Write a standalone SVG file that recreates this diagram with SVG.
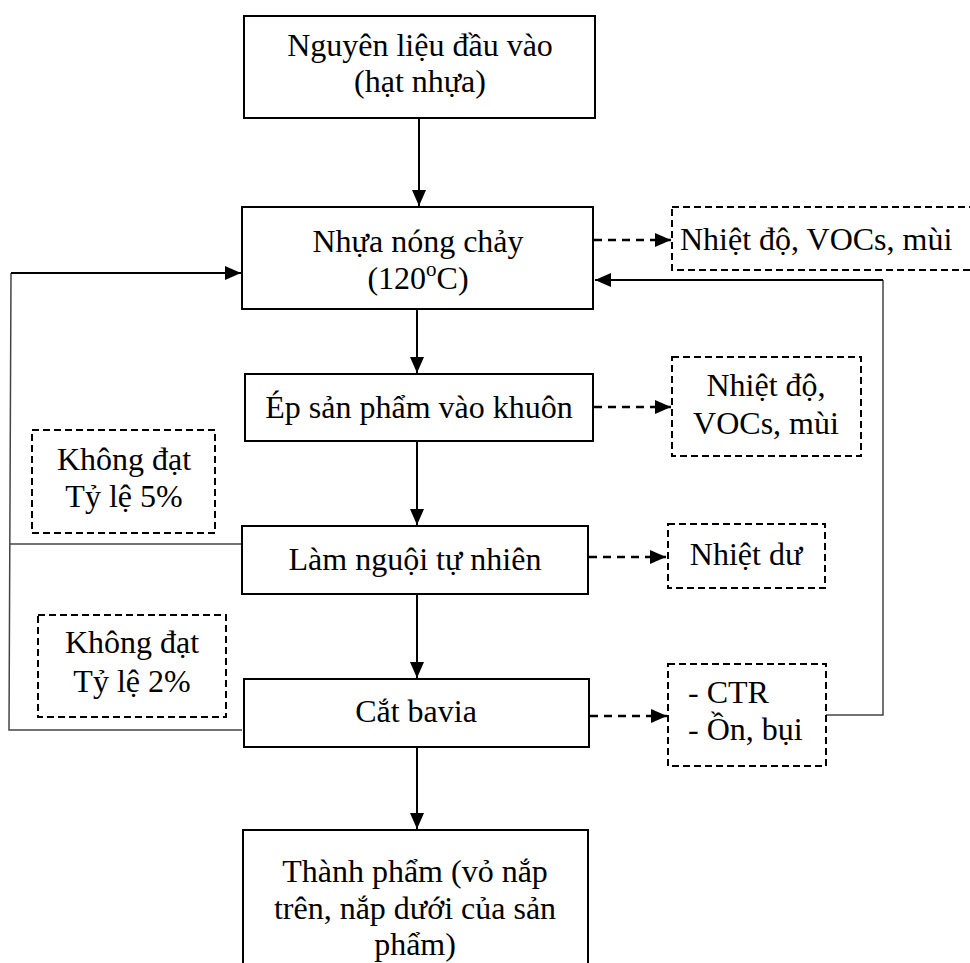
<svg xmlns="http://www.w3.org/2000/svg" width="970" height="963" viewBox="0 0 970 963">
<style>
text{font-family:"Liberation Serif","Times New Roman",serif;font-size:32px;fill:#000;text-anchor:middle}
.box{fill:#fff;stroke:#000;stroke-width:2}
.dbox{fill:#fff;stroke:#000;stroke-width:2;stroke-dasharray:7 4}
.arr{fill:none;stroke:#000;stroke-width:2;marker-end:url(#ah)}
.darr{fill:none;stroke:#000;stroke-width:2.5;stroke-dasharray:8 6;marker-end:url(#ah)}
.thin{fill:none;stroke:#444;stroke-width:1.5}
.l{text-anchor:start}
</style>
<defs>
<marker id="ah" markerUnits="userSpaceOnUse" markerWidth="17" markerHeight="14" refX="16" refY="7" orient="auto">
<path d="M0,0 L16,7 L0,14 z" fill="#000"/>
</marker>
</defs>
<rect width="970" height="963" fill="#fff"/>
<g id="connectors">
<line class="arr" x1="419" y1="118" x2="419" y2="206"/>
<line class="arr" x1="417" y1="309" x2="417" y2="373"/>
<line class="arr" x1="417" y1="441" x2="417" y2="525"/>
<line class="arr" x1="417" y1="594" x2="417" y2="678"/>
<line class="arr" x1="417" y1="747" x2="417" y2="829"/>
<line class="darr" x1="594" y1="240" x2="671" y2="240"/>
<line class="darr" x1="594" y1="407" x2="671" y2="407"/>
<line class="darr" x1="589" y1="557" x2="666" y2="557"/>
<line class="darr" x1="590" y1="716" x2="667" y2="716"/>
<polyline class="thin" points="826,715 883,715 883,280"/>
<line class="arr" x1="883" y1="280" x2="595" y2="280"/>
<polyline class="thin" points="242,730 9,730 11,273"/>
<line class="thin" x1="10" y1="544" x2="242" y2="544"/>
<line class="arr" x1="11" y1="273" x2="241" y2="273"/>
</g>
<g id="n1">
<rect class="box" x="244" y="16" width="351" height="102"/>
<text x="420" y="56">Nguyên liệu đầu vào</text>
<text x="420" y="92">(hạt nhựa)</text>
</g>
<g id="n2">
<rect class="box" x="242" y="207" width="351" height="102"/>
<text x="418" y="252">Nhựa nóng chảy</text>
<text x="418" y="289">(120<tspan font-size="21" dy="-13">o</tspan><tspan dy="13">C)</tspan></text>
</g>
<g id="n3">
<rect class="box" x="245" y="374" width="348" height="67"/>
<text x="419" y="418">Ép sản phẩm vào khuôn</text>
</g>
<g id="n4">
<rect class="box" x="242" y="526" width="346" height="68"/>
<text x="415" y="570">Làm nguội tự nhiên</text>
</g>
<g id="n5">
<rect class="box" x="244" y="679" width="345" height="68"/>
<text x="416" y="722">Cắt bavia</text>
</g>
<g id="n6">
<rect class="box" x="243" y="830" width="345" height="150"/>
<text x="415" y="882">Thành phẩm (vỏ nắp</text>
<text x="415" y="919">trên, nắp dưới của sản</text>
<text x="415" y="955">phẩm)</text>
</g>
<g id="e1">
<rect class="dbox" x="672" y="207" width="310" height="63"/>
<text class="l" x="680" y="250">Nhiệt độ, VOCs, mùi</text>
</g>
<g id="e2">
<rect class="dbox" x="672" y="357" width="189" height="99"/>
<text x="766" y="396">Nhiệt độ,</text>
<text x="766" y="434">VOCs, mùi</text>
</g>
<g id="e3">
<rect class="dbox" x="668" y="524" width="157" height="64"/>
<text x="746" y="565">Nhiệt dư</text>
</g>
<g id="e4">
<rect class="dbox" x="668" y="664" width="158" height="102"/>
<text class="l" x="688" y="703">- CTR</text>
<text class="l" x="688" y="740">- Ồn, bụi</text>
</g>
<g id="r1">
<rect class="dbox" x="32" y="430" width="183" height="103"/>
<text x="124" y="470">Không đạt</text>
<text x="124" y="507">Tỷ lệ 5%</text>
</g>
<g id="r2">
<rect class="dbox" x="38" y="615" width="188" height="102"/>
<text x="132" y="653">Không đạt</text>
<text x="132" y="692">Tỷ lệ 2%</text>
</g>
</svg>
